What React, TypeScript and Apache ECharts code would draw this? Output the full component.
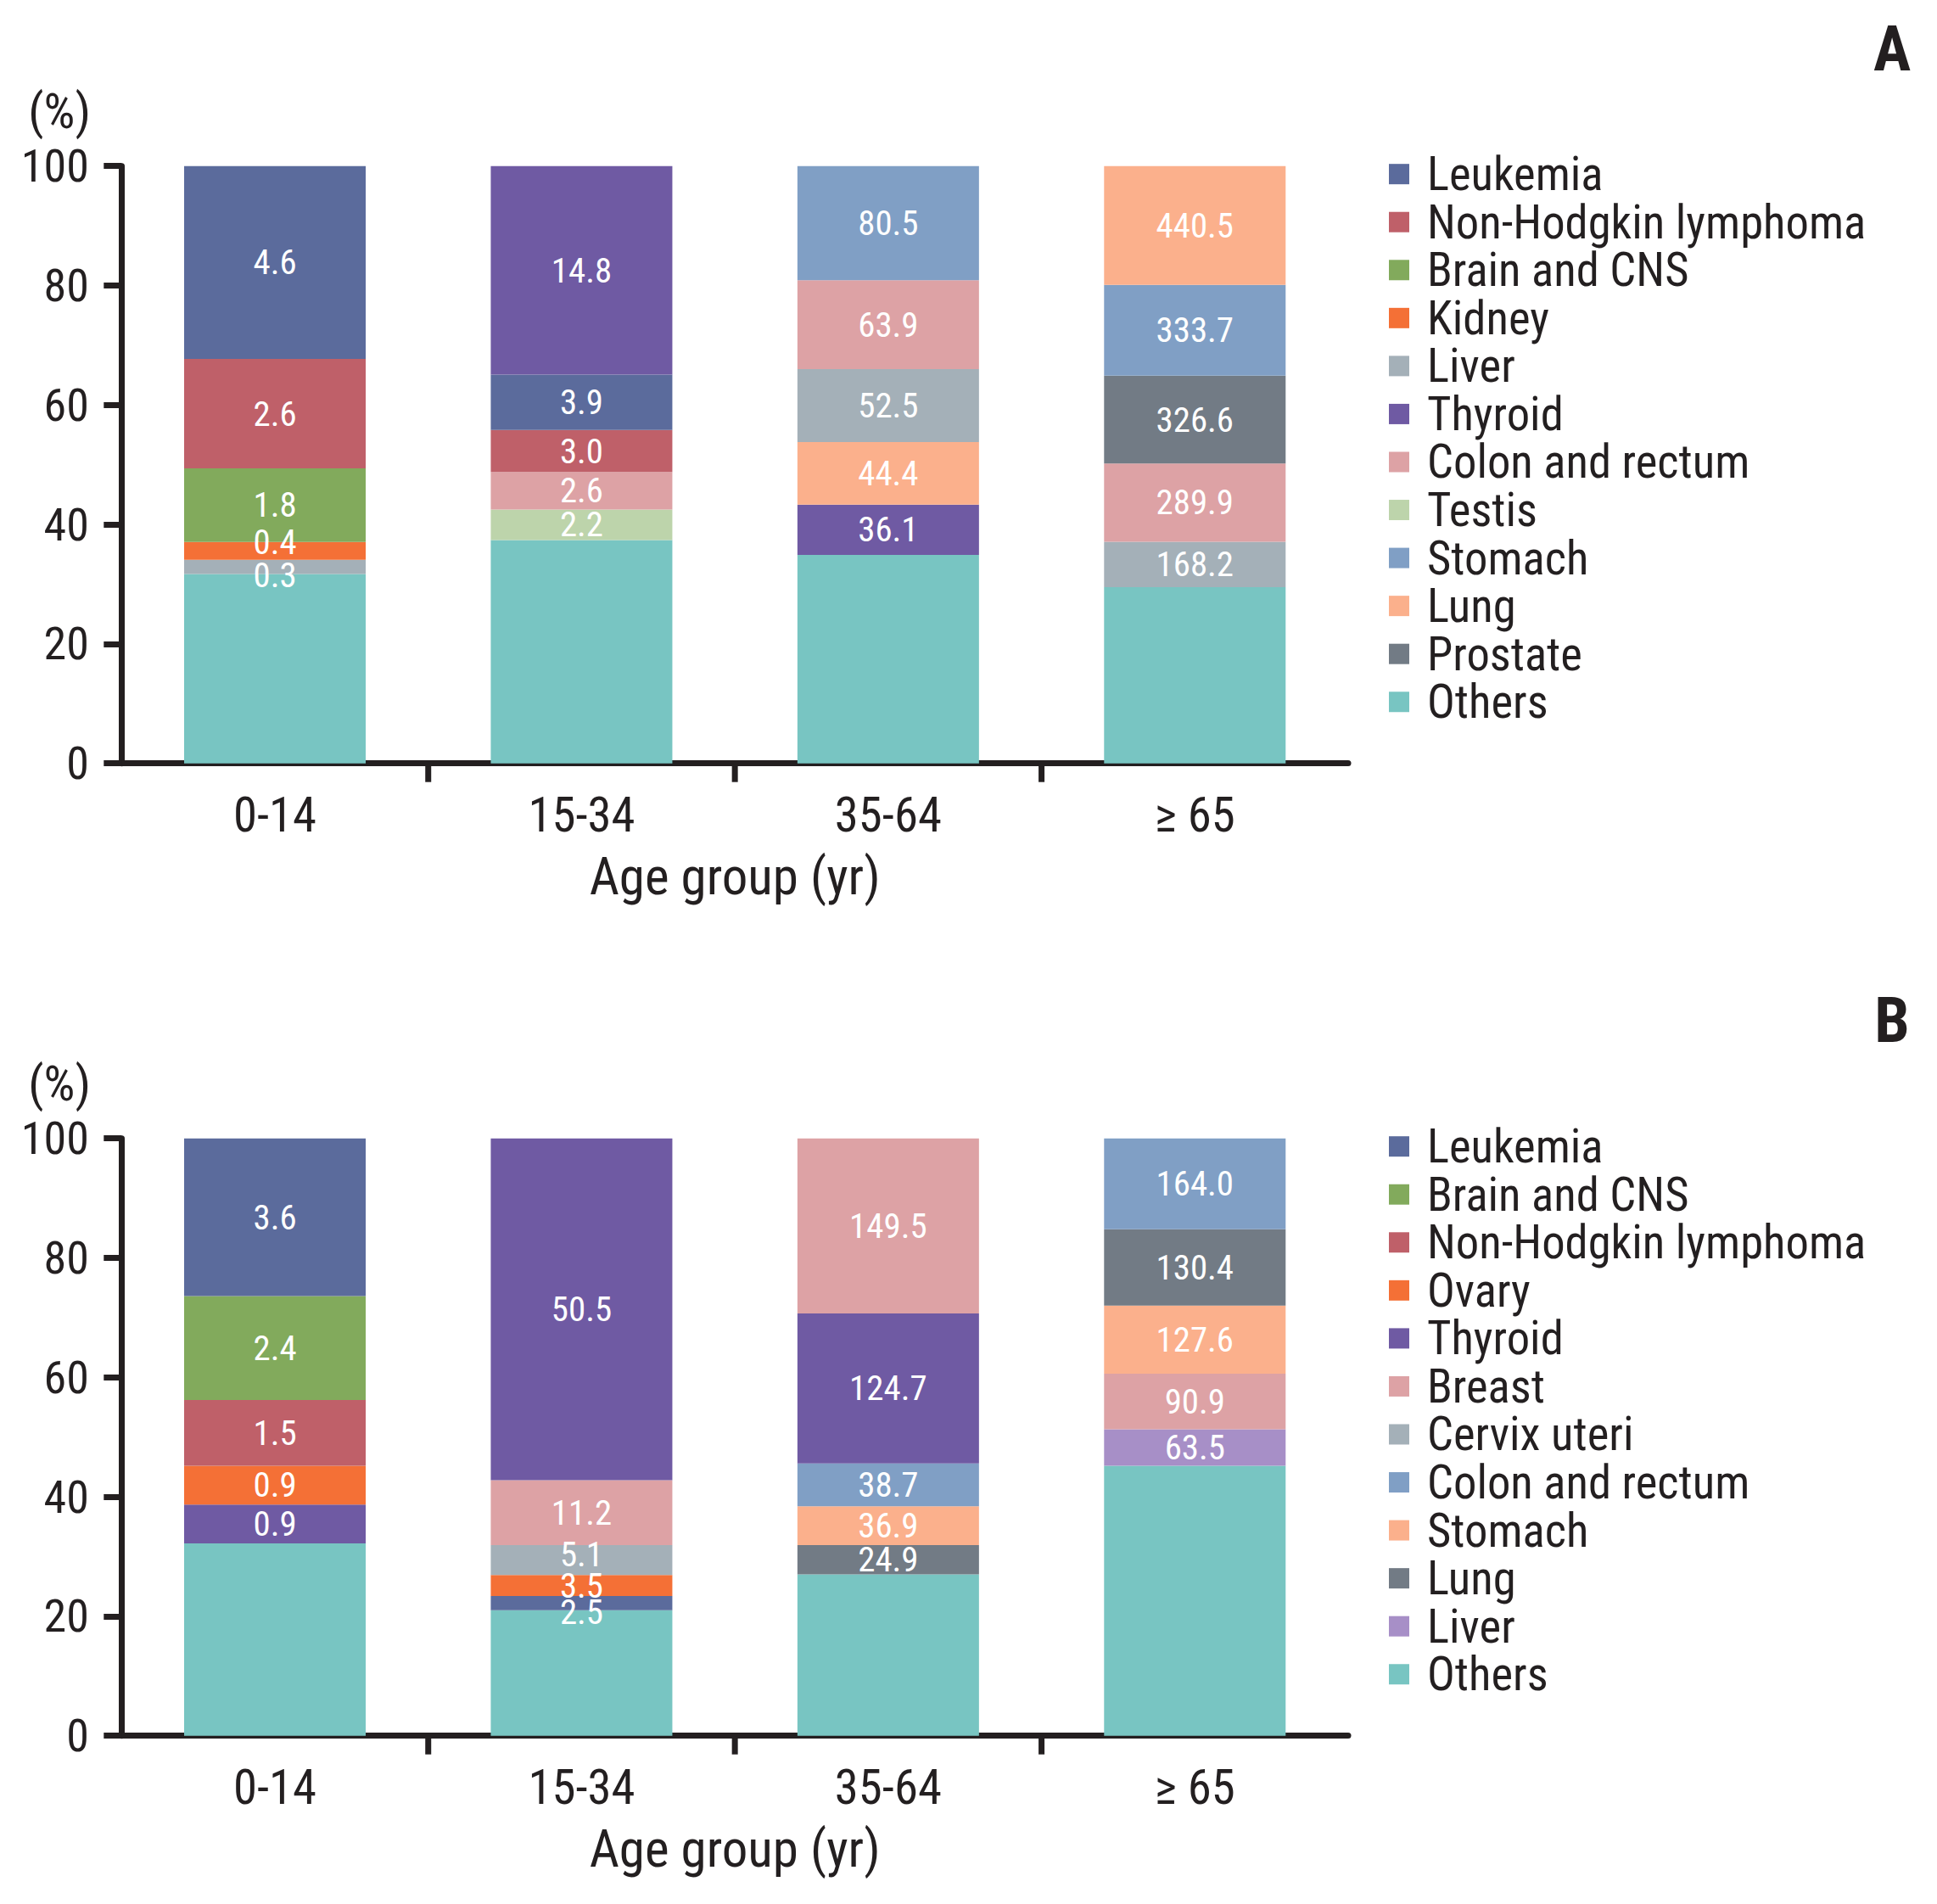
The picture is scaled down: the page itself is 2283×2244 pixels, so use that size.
import React, { useEffect, useRef } from "react";
import * as echarts from "echarts";

// ---------- data ----------
const ageGroups = ["0-14", "15-34", "35-64", "≥ 65"];
const yMin = 0;
const yMax = 100;
const yStep = 20;

// Panel A (stacking order: bottom -> top); share = % of bar, rate = printed label
const a0014Types = ["Others", "Liver", "Kidney", "Brain and CNS", "Non-Hodgkin lymphoma", "Leukemia"];
const a0014Share = [31.7, 2.4, 2.95, 12.35, 18.3, 32.3];
const a0014Rate = ["", "0.3", "0.4", "1.8", "2.6", "4.6"];

const a1534Types = ["Others", "Testis", "Colon and rectum", "Non-Hodgkin lymphoma", "Leukemia", "Thyroid"];
const a1534Share = [37.4, 5.1, 6.3, 7.0, 9.3, 34.9];
const a1534Rate = ["", "2.2", "2.6", "3.0", "3.9", "14.8"];

const a3564Types = ["Others", "Thyroid", "Lung", "Liver", "Colon and rectum", "Stomach"];
const a3564Share = [34.9, 8.4, 10.5, 12.2, 14.9, 19.1];
const a3564Rate = ["", "36.1", "44.4", "52.5", "63.9", "80.5"];

const a65Types = ["Others", "Liver", "Colon and rectum", "Prostate", "Stomach", "Lung"];
const a65Share = [29.5, 7.6, 13.1, 14.7, 15.2, 19.9];
const a65Rate = ["", "168.2", "289.9", "326.6", "333.7", "440.5"];

// Panel B
const b0014Types = ["Others", "Thyroid", "Ovary", "Non-Hodgkin lymphoma", "Brain and CNS", "Leukemia"];
const b0014Share = [32.2, 6.5, 6.5, 11.0, 17.4, 26.4];
const b0014Rate = ["", "0.9", "0.9", "1.5", "2.4", "3.6"];

const b1534Types = ["Others", "Leukemia", "Ovary", "Cervix uteri", "Breast", "Thyroid"];
const b1534Share = [21.0, 2.4, 3.5, 5.0, 10.9, 57.2];
const b1534Rate = ["", "2.5", "3.5", "5.1", "11.2", "50.5"];

const b3564Types = ["Others", "Lung", "Stomach", "Colon and rectum", "Thyroid", "Breast"];
const b3564Share = [27.0, 4.9, 6.5, 7.2, 25.1, 29.3];
const b3564Rate = ["", "24.9", "36.9", "38.7", "124.7", "149.5"];

const b65Types = ["Others", "Liver", "Breast", "Stomach", "Lung", "Colon and rectum"];
const b65Share = [45.2, 6.1, 9.3, 11.4, 12.8, 15.2];
const b65Rate = ["", "63.5", "90.9", "127.6", "130.4", "164.0"];

const legendA = ["Leukemia", "Non-Hodgkin lymphoma", "Brain and CNS", "Kidney", "Liver", "Thyroid",
  "Colon and rectum", "Testis", "Stomach", "Lung", "Prostate", "Others"];
const legendB = ["Leukemia", "Brain and CNS", "Non-Hodgkin lymphoma", "Ovary", "Thyroid", "Breast",
  "Cervix uteri", "Colon and rectum", "Stomach", "Lung", "Liver", "Others"];

const axisTitle = "Age group (yr)";
const unitLabel = "(%)";

// ---------- styles ----------
const INK = "#231f20";

const colorsA: Record<string, string> = {
  "Leukemia": "#5b6b9c",
  "Non-Hodgkin lymphoma": "#bf6069",
  "Brain and CNS": "#82aa5c",
  "Kidney": "#f47036",
  "Liver": "#a4b0b8",
  "Thyroid": "#6f5aa3",
  "Colon and rectum": "#dda2a5",
  "Testis": "#bdd4ab",
  "Stomach": "#809fc5",
  "Lung": "#fbb08c",
  "Prostate": "#727b85",
  "Others": "#78c5c2",
};
const colorsB: Record<string, string> = {
  "Leukemia": "#5b6b9c",
  "Brain and CNS": "#82aa5c",
  "Non-Hodgkin lymphoma": "#bf6069",
  "Ovary": "#f47036",
  "Thyroid": "#6f5aa3",
  "Breast": "#dda2a5",
  "Cervix uteri": "#a4b0b8",
  "Colon and rectum": "#809fc5",
  "Stomach": "#fbb08c",
  "Lung": "#727b85",
  "Liver": "#a78fc7",
  "Others": "#78c5c2",
};

// small label nudges (px) where neighbouring labels overlap
const labelNudge: Record<string, number> = {
  "0-0-Kidney": -10,
  "0-0-Liver": 10,
  "1-1-Cervix uteri": -7,
  "1-1-Leukemia": 11,
};

const GRID_LEFT = 143.3;
const GRID_WIDTH = 1445.7;
const GRID_HEIGHT = 704;
const GRID_TOPS = [195.7, 1341.7];
const LEGEND_FIRST_ROW = [205, 1351];
const LEGEND_PITCH = 56.2;
const UNIT_Y = [130.5, 1276.5];
const PANEL_Y = [57.5, 1202.6];
const PANEL_NAMES = ["A", "B"];

const panels = [
  {
    types: [a0014Types, a1534Types, a3564Types, a65Types],
    share: [a0014Share, a1534Share, a3564Share, a65Share],
    rate: [a0014Rate, a1534Rate, a3564Rate, a65Rate],
    colors: colorsA,
    legend: legendA,
  },
  {
    types: [b0014Types, b1534Types, b3564Types, b65Types],
    share: [b0014Share, b1534Share, b3564Share, b65Share],
    rate: [b0014Rate, b1534Rate, b3564Rate, b65Rate],
    colors: colorsB,
    legend: legendB,
  },
];

// ---------- font selection (narrow face closest to the reference's proportions) ----------
type FontSetup = {
  family: string;
  stretch: string;
  sizes: { legend: number; y: number; x: number; title: number; bar: number; unit: number; panel: number };
};

function setupFonts(): FontSetup {
  const canvas = document.createElement("canvas");
  const ctx = canvas.getContext("2d") as any;
  const measure = (text: string, size: number, fam: string, stretch: string) => {
    ctx.font = `${stretch === "normal" ? "" : stretch + " "}${size}px ${fam}`;
    if ("fontStretch" in ctx) {
      try {
        ctx.fontStretch = stretch;
      } catch (e) {
        /* ignore */
      }
    }
    return ctx.measureText(text).width;
  };
  const candidates = ["'Noto Sans'", "'Open Sans'", "Roboto", "Inter", "'Liberation Sans'", "'DejaVu Sans'"];
  const stretches = ["normal", "semi-condensed", "condensed"];
  const legendNominal = 55;
  const legendFit = (fam: string, st: string) =>
    ((100 * 518) / measure("Non-Hodgkin lymphoma", 100, fam, st) +
      (100 * 380) / measure("Colon and rectum", 100, fam, st)) / 2;
  let best = { family: "'DejaVu Sans Condensed'", stretch: "normal", score: Infinity };
  {
    const f = legendFit(best.family, "normal");
    best.score = Math.abs(Math.log(f / legendNominal));
  }
  for (const fam of candidates) {
    for (const st of stretches) {
      const f = legendFit(fam, st);
      const score = Math.abs(Math.log(f / legendNominal));
      if (score < best.score - 0.005) best = { family: fam, stretch: st, score };
    }
  }
  const fam = best.family + ", 'DejaVu Sans Condensed', sans-serif";
  const fit = (text: string, refW: number) => (100 * refW) / measure(text, 100, fam, best.stretch);
  const clamp = (v: number, nominal: number) => Math.max(nominal * 0.85, Math.min(nominal * 1.04, v));
  const sizes = {
    legend: clamp(legendFit(fam, best.stretch), legendNominal),
    y: clamp(fit("100", 80), 58),
    x: clamp((fit("15-34", 125) + fit("0-14", 99)) / 2, 60),
    title: clamp(fit("Age group (yr)", 343), 62),
    bar: clamp((fit("440.5", 92) + fit("14.8", 71)) / 2, 46),
    unit: clamp(fit("(%)", 75), 56),
    panel: 74,
  };
  return { family: fam, stretch: best.stretch, sizes };
}

function buildOption(fs: FontSetup, extraGraphics: any[]) {
  const FONT = fs.family;
  const S = fs.sizes;
  const grids: any[] = [];
  const xAxes: any[] = [];
  const yAxes: any[] = [];
  const series: any[] = [];
  const legends: any[] = [];
  const graphics: any[] = [];

  panels.forEach((p, g) => {
    grids.push({
      left: GRID_LEFT,
      top: GRID_TOPS[g],
      width: GRID_WIDTH,
      height: GRID_HEIGHT,
      containLabel: false,
      outerBoundsMode: "none",
    });
    xAxes.push({
      type: "category",
      gridIndex: g,
      data: ageGroups,
      axisLine: { show: true, lineStyle: { color: INK, width: 7 } },
      axisTick: { show: false },
      axisLabel: { color: INK, fontSize: S.x, fontFamily: FONT, margin: 61 - S.x / 2 },
      name: axisTitle,
      nameLocation: "middle",
      nameGap: 133 - S.title / 2,
      nameTextStyle: { color: INK, fontSize: S.title, fontFamily: FONT },
      splitLine: { show: false },
    });
    yAxes.push({
      type: "value",
      gridIndex: g,
      min: yMin,
      max: yMax,
      interval: yStep,
      axisLine: { show: true, lineStyle: { color: INK, width: 7 } },
      axisTick: { show: true, inside: false, length: 21, lineStyle: { color: INK, width: 7 } },
      axisLabel: { color: INK, fontSize: S.y, fontFamily: FONT, margin: 38.5 },
      splitLine: { show: false },
    });

    p.types.forEach((types, c) => {
      types.forEach((name, k) => {
        const rate = p.rate[c][k];
        const nudge = labelNudge[`${g}-${c}-${name}`] || 0;
        series.push({
          type: "bar",
          name,
          stack: "panel" + g,
          xAxisIndex: g,
          yAxisIndex: g,
          barWidth: 214,
          silent: true,
          data: ageGroups.map((_, i) => (i === c ? p.share[c][k] : null)),
          itemStyle: { color: p.colors[name] },
          emphasis: { disabled: true },
          label: {
            show: rate !== "",
            position: "inside",
            formatter: () => rate,
            color: "#ffffff",
            fontSize: S.bar,
            fontFamily: FONT,
            offset: [0, nudge],
          },
        });
      });
    });

    legends.push({
      orient: "vertical",
      left: 1637,
      top: LEGEND_FIRST_ROW[g] - S.legend / 2,
      itemWidth: 24,
      itemHeight: 24,
      itemGap: Math.max(0, LEGEND_PITCH - S.legend),
      icon: "rect",
      selectedMode: false,
      padding: 0,
      textStyle: { color: INK, fontSize: S.legend, fontFamily: FONT, padding: [0, 0, 0, 16] },
      data: p.legend.map((name) => ({ name, itemStyle: { color: p.colors[name] } })),
    });

    graphics.push({
      type: "text",
      id: "unit" + g,
      x: 107,
      y: UNIT_Y[g],
      style: {
        text: unitLabel,
        fontSize: S.unit,
        fontFamily: FONT,
        fill: INK,
        textAlign: "right",
        textVerticalAlign: "middle",
        align: "right",
        verticalAlign: "middle",
      },
    });
    graphics.push({
      type: "text",
      id: "panel" + g,
      x: 2230,
      y: PANEL_Y[g],
      style: {
        text: PANEL_NAMES[g],
        fontSize: S.panel,
        fontWeight: "bold",
        fontFamily: FONT,
        fill: INK,
        textAlign: "center",
        textVerticalAlign: "middle",
        align: "center",
        verticalAlign: "middle",
      },
    });
  });

  return {
    animation: false,
    backgroundColor: "#ffffff",
    grid: grids,
    xAxis: xAxes,
    yAxis: yAxes,
    legend: legends,
    series,
    graphic: { elements: graphics.concat(extraGraphics) },
  };
}

export default function App() {
  const ref = useRef<HTMLDivElement>(null);
  useEffect(() => {
    if (!ref.current) return;
    const fs = setupFonts();
    let styleEl: HTMLStyleElement | null = null;
    if (fs.stretch !== "normal") {
      styleEl = document.createElement("style");
      styleEl.textContent = `#chart-host svg text { font-stretch: ${fs.stretch} !important; }`;
      document.head.appendChild(styleEl);
    }
    const chart = echarts.init(ref.current, null, { renderer: "svg" });
    chart.setOption(buildOption(fs, []));

    // category-boundary ticks on the x axes (interior boundaries only)
    const ticks: any[] = [];
    panels.forEach((_, g) => {
      const y0 = chart.convertToPixel({ yAxisIndex: g }, 0) as number;
      for (let i = 1; i < ageGroups.length; i++) {
        const xa = chart.convertToPixel({ xAxisIndex: g }, ageGroups[i - 1]) as number;
        const xb = chart.convertToPixel({ xAxisIndex: g }, ageGroups[i]) as number;
        const x = (xa + xb) / 2;
        ticks.push({
          type: "line",
          id: `tick${g}-${i}`,
          shape: { x1: x, y1: y0, x2: x, y2: y0 + 22 },
          style: { stroke: INK, lineWidth: 7 },
          silent: true,
        });
      }
    });
    chart.setOption(buildOption(fs, ticks));
    return () => {
      chart.dispose();
      if (styleEl) styleEl.remove();
    };
  }, []);

  return (
    <div
      id="chart-host"
      ref={ref}
      style={{ position: "absolute", left: 0, top: 0, width: 2283, height: 2244, background: "#fff" }}
    />
  );
}
